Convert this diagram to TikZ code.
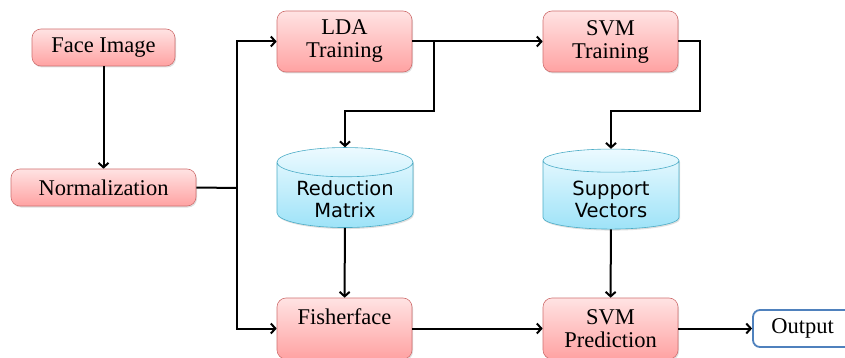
\documentclass[tikz,border=0pt]{standalone}
\usepackage{fontspec}
\setmainfont{Liberation Serif}
\newfontfamily\cylfont{DejaVu Sans}
\usetikzlibrary{shapes.geometric,arrows.meta,shadows}
\definecolor{boxtop}{HTML}{FFE3E3}
\definecolor{boxbot}{HTML}{FFA2A2}
\definecolor{boxline}{HTML}{CF6F6F}
\definecolor{cyltop}{HTML}{ECFAFF}
\definecolor{cylbot}{HTML}{9EE3F8}
\definecolor{cylline}{HTML}{4BACC6}
\definecolor{outline}{HTML}{4F81BD}
\newcommand{\cyltext}[2]{\raisebox{-12pt}[0pt][0pt]{\begin{tabular}{@{}c@{}}#1\\#2\end{tabular}}}
\begin{document}
\begin{tikzpicture}[x=1pt,y=-1pt,
    redbox/.style={rectangle,rounded corners=9pt,draw=boxline,line width=0.6pt,
      top color=boxtop,bottom color=boxbot,inner sep=0pt,align=center,
      drop shadow={opacity=0.25,shadow xshift=1pt,shadow yshift=-1.5pt},
      font=\fontsize{22.5}{23}\selectfont},
    database/.style={cylinder,shape border rotate=90,aspect=0.3,draw=cylline,
      line width=0.6pt,top color=cyltop,bottom color=cylbot,inner sep=0pt,
      minimum width=136pt,minimum height=80pt,
      drop shadow={opacity=0.25,shadow xshift=1pt,shadow yshift=-1.5pt},
      font=\cylfont\fontsize{19.5}{22}\selectfont},
    outbox/.style={rectangle,rounded corners=7pt,draw=outline,line width=1.8pt,
      fill=white,minimum width=99pt,minimum height=37pt,inner sep=0pt,
      font=\fontsize{22.5}{23}\selectfont},
    flow/.style={line width=2pt,-{Straight Barb[length=4.5pt,width=10pt]}},
    link/.style={line width=2pt}]
  \useasboundingbox (0,0) rectangle (845,358);
  \clip (0,0) rectangle (845,358);
  % left column
  \node [redbox,minimum width=143pt,minimum height=37pt] (face) at (103.5,47.5) {Face Image};
  \node [redbox,minimum width=185pt,minimum height=37pt] (norm) at (103.5,187.5) {Normalization};
  % training row
  \node [redbox,minimum width=135pt,minimum height=61pt] (lda) at (344.5,41.5) {LDA\\Training};
  \node [redbox,minimum width=135pt,minimum height=61pt] (svmt) at (610.5,41.5) {SVM\\Training};
  % stored models
  \node [database] (redmat) at (345,195) {\cyltext{Reduction}{Matrix}};
  \node [database] (supvec) at (611,195) {\cyltext{Support}{Vectors}};
  % prediction row
  \node [redbox,minimum width=135pt,minimum height=61pt] (fisher) at (344.5,328.5) {Fisherface\\\mbox{}};
  \node [redbox,minimum width=135pt,minimum height=61pt] (svmp) at (610.5,328.5) {SVM\\Prediction};
  \node [outbox] (out) at (802.5,328.5) {Output};
  % connectors
  \coordinate (split) at (237,188);
  \coordinate (ldab) at (434,42);
  \coordinate (ldadrop) at (434,111);
  \coordinate (svmdrop) at (700,111);
  \draw [flow] (face) -- (norm);
  \draw [link] (norm.east) -- (split);
  \draw [flow] (split) |- (lda.west);
  \draw [flow] (split) |- (fisher.west);
  \draw [flow] (lda) -- (svmt);
  \draw [flow] (ldab) -- (ldadrop) -| (redmat.north);
  \draw [flow] (svmt.east) -| (svmdrop) -| (supvec.north);
  \draw [flow] (redmat) -- (fisher);
  \draw [flow] (supvec) -- (svmp);
  \draw [flow] (fisher) -- (svmp);
  \draw [flow] (svmp) -- (out);
\end{tikzpicture}
\end{document}
